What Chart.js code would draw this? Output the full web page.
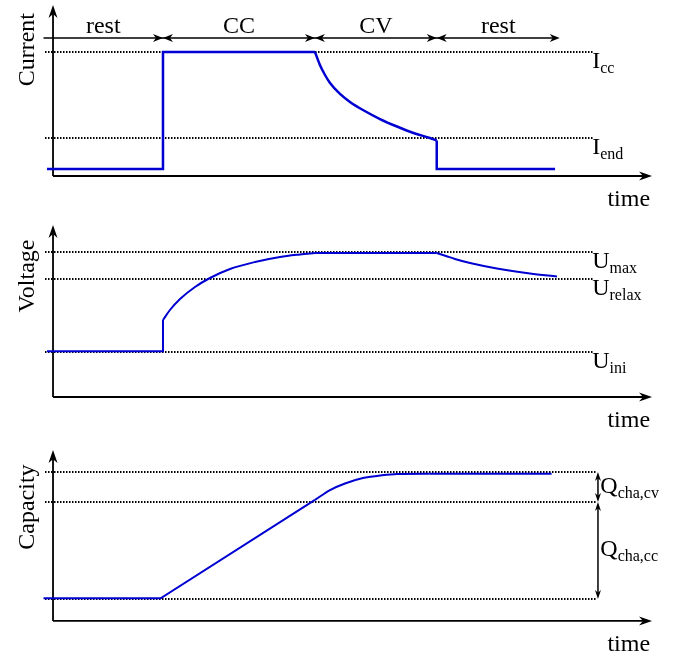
<!DOCTYPE html>
<html>
<head>
<meta charset="utf-8">
<script src="https://cdn.jsdelivr.net/npm/chart.js@4.4.1/dist/chart.umd.min.js"></script>
<style>
  html, body { margin: 0; padding: 0; background: #fff; }
  #wrap { position: relative; width: 675px; height: 656px; }
  .panel { position: absolute; left: 0; width: 675px; }
</style>
</head>
<body>
<div id="wrap">
  <div class="panel" style="top:0;height:218px"><canvas id="currentChart"></canvas></div>
  <div class="panel" style="top:218px;height:220px"><canvas id="voltageChart"></canvas></div>
  <div class="panel" style="top:438px;height:218px"><canvas id="capacityChart"></canvas></div>
</div>
<script>
// phases of the charge protocol
const phaseNames = ['rest', 'CC', 'CV', 'rest'];
const phaseEdges = [-0.03, 1.0, 2.31, 3.36, 4.42];

// current (relative to I_cc)
const currentCcTime = [0, 1.0, 1.0, 2.31];
const currentCcValue = [0, 0, 1.0, 1.0];
const currentCvTime = [2.31, 2.353, 2.397, 2.44, 2.526, 2.612, 2.724, 2.871, 3.017, 3.172, 3.302, 3.36];
const currentCvValue = [1.0, 0.889, 0.803, 0.735, 0.641, 0.573, 0.504, 0.427, 0.363, 0.303, 0.265, 0.244];
const currentRestTime = [3.36, 3.36, 4.38];
const currentRestValue = [0.244, 0, 0];
const currentRefs = [1.0, 0.265];
const currentRefLabels = [['I', 'cc'], ['I', 'end']];

// voltage (V)
const voltageStepTime = [0, 1.0, 1.0];
const voltageStepValue = [3.01, 3.01, 3.384];
const voltageCcTime = [1.0, 1.06, 1.147, 1.276, 1.405, 1.578, 1.793, 2.009, 2.181, 2.31];
const voltageCcValue = [3.384, 3.504, 3.636, 3.78, 3.888, 3.996, 4.08, 4.14, 4.17, 4.188];
const voltageCvTime = [2.31, 3.36];
const voltageCvValue = [4.188, 4.188];
const voltageRelaxTime = [3.36, 3.44, 3.517, 3.647, 3.879, 4.164, 4.397];
const voltageRelaxValue = [4.188, 4.152, 4.116, 4.068, 4.002, 3.942, 3.906];
const voltageRefs = [4.2, 3.876, 3.0];
const voltageRefLabels = [['U', 'max'], ['U', 'relax'], ['U', 'ini']];

// capacity (relative to total charge)
const capacityCcTime = [-0.03, 0.98, 2.31];
const capacityCcValue = [0.005, 0.005, 0.78];
const capacityCvTime = [2.31, 2.44, 2.569, 2.724, 2.87, 3.017, 3.30];
const capacityCvValue = [0.78, 0.858, 0.91, 0.953, 0.972, 0.984, 0.986];
const capacityRestTime = [3.30, 4.35];
const capacityRestValue = [0.986, 0.986];
const capacityRefs = [1.0, 0.764, 0];
const capacityRefLabels = [['Q', 'cha,cv'], ['Q', 'cha,cc']];

const lineBlue = 'rgb(0, 0, 210)';
const ink = '#000';
const serif = '"Liberation Serif", "DejaVu Serif", serif';
const xMin = -0.405, xMax = 5.414;
const axisX0 = 0.052, axisXEnd = 5.216;
const refStart = -0.017;

function series(times, values, smooth, width) {
    return {
        data: times.map((t, i) => ({ x: t, y: values[i] })),
        borderColor: lineBlue,
        borderWidth: width || 2,
        fill: false,
        pointRadius: 0,
        tension: smooth ? 0.4 : 0,
        cubicInterpolationMode: smooth ? 'monotone' : 'default'
    };
}

function arrowHead(ctx, x, y, angle, len, half) {
    ctx.save();
    ctx.translate(x, y);
    ctx.rotate(angle);
    ctx.beginPath();
    ctx.moveTo(0, 0);
    ctx.lineTo(-len, -half);
    ctx.lineTo(-len * 0.7, 0);
    ctx.lineTo(-len, half);
    ctx.closePath();
    ctx.fill();
    ctx.restore();
}

function subLabel(ctx, x, y, main, sub) {
    ctx.textAlign = 'left';
    ctx.textBaseline = 'alphabetic';
    ctx.font = '24px ' + serif;
    ctx.fillText(main, x, y);
    const w = ctx.measureText(main).width;
    ctx.font = '16px ' + serif;
    ctx.fillText(sub, x + w, y + 5);
}

function decor(cfg) {
    return {
        id: 'decor',
        beforeDatasetsDraw(chart) {
            const ctx = chart.ctx, xs = chart.scales.x, ys = chart.scales.y;
            const px = v => xs.getPixelForValue(v), py = v => ys.getPixelForValue(v);
            ctx.save();
            ctx.fillStyle = ink;
            ctx.strokeStyle = ink;
            // dotted reference lines
            ctx.lineWidth = 2;
            ctx.setLineDash([1.5, 1.5]);
            cfg.refs.forEach(v => {
                ctx.beginPath();
                ctx.moveTo(px(refStart), py(v));
                ctx.lineTo(px(cfg.refEnd), py(v));
                ctx.stroke();
            });
            ctx.setLineDash([]);
            // axes with arrows
            ctx.lineWidth = 1.8;
            const ox = px(axisX0), oy = py(cfg.axisY0);
            ctx.beginPath();
            ctx.moveTo(ox, oy);
            ctx.lineTo(ox, py(cfg.axisYTop) + 6);
            ctx.moveTo(ox, oy);
            ctx.lineTo(px(axisXEnd) - 6, oy);
            ctx.stroke();
            arrowHead(ctx, ox, py(cfg.axisYTop), -Math.PI / 2, 13, 4.5);
            arrowHead(ctx, px(axisXEnd), oy, 0, 13, 4.5);
            ctx.restore();
        },
        afterDatasetsDraw(chart) {
            const ctx = chart.ctx, xs = chart.scales.x, ys = chart.scales.y;
            const px = v => xs.getPixelForValue(v), py = v => ys.getPixelForValue(v);
            ctx.save();
            ctx.fillStyle = ink;
            ctx.strokeStyle = ink;
            ctx.font = '24px ' + serif;
            // axis titles
            ctx.save();
            ctx.translate(34, py(cfg.titleAt));
            ctx.rotate(-Math.PI / 2);
            ctx.textAlign = 'center';
            ctx.textBaseline = 'alphabetic';
            ctx.fillText(cfg.title, 0, 0);
            ctx.restore();
            ctx.textAlign = 'right';
            ctx.textBaseline = 'alphabetic';
            ctx.fillText('time', px(axisXEnd) - 2, py(cfg.axisY0) + 30);
            if (cfg.extra) cfg.extra(ctx, px, py);
            ctx.restore();
        }
    };
}

function makeChart(id, datasets, yMin, yMax, plugin) {
    return new Chart(document.getElementById(id).getContext('2d'), {
        type: 'line',
        data: { datasets: datasets },
        options: {
            responsive: true,
            maintainAspectRatio: false,
            animation: false,
            layout: { padding: 0 },
            plugins: { legend: { display: false }, tooltip: { enabled: false } },
            elements: { point: { radius: 0 } },
            scales: {
                x: { type: 'linear', display: false, min: xMin, max: xMax },
                y: { type: 'linear', display: false, min: yMin, max: yMax }
            }
        },
        plugins: [plugin]
    });
}

// Corrente
makeChart('currentChart', [
    series(currentCcTime, currentCcValue, false, 2.5),
    series(currentCvTime, currentCvValue, true, 2.5),
    series(currentRestTime, currentRestValue, false, 2.5)
], -0.419, 1.444, decor({
    refs: currentRefs, refEnd: 4.707, axisY0: -0.06, axisYTop: 1.402,
    title: 'Current', titleAt: 1.02,
    extra(ctx, px, py) {
        currentRefs.forEach((v, i) => {
            subLabel(ctx, px(4.70), py(v) + 16, currentRefLabels[i][0], currentRefLabels[i][1]);
        });
        // phase arrows
        const yl = py(1.12);
        ctx.lineWidth = 1.5;
        ctx.beginPath();
        ctx.moveTo(px(phaseEdges[0]), yl);
        ctx.lineTo(px(phaseEdges[phaseEdges.length - 1]) - 4, yl);
        ctx.stroke();
        for (let i = 1; i < phaseEdges.length - 1; i++) {
            arrowHead(ctx, px(phaseEdges[i]), yl, 0, 10, 4);
            arrowHead(ctx, px(phaseEdges[i]), yl, Math.PI, 10, 4);
        }
        arrowHead(ctx, px(phaseEdges[phaseEdges.length - 1]), yl, 0, 10, 4);
        ctx.font = '24px ' + serif;
        ctx.textAlign = 'center';
        phaseNames.forEach((n, i) => {
            ctx.fillText(n, px((phaseEdges[i] + phaseEdges[i + 1]) / 2), yl - 5);
        });
    }
}));

// Tensão
makeChart('voltageChart', [
    series(voltageStepTime, voltageStepValue, false),
    series(voltageCcTime, voltageCcValue, true),
    series(voltageCvTime, voltageCvValue, false),
    series(voltageRelaxTime, voltageRelaxValue, true)
], 1.968, 4.608, decor({
    refs: voltageRefs, refEnd: 4.707, axisY0: 2.46, axisYTop: 4.524,
    title: 'Voltage', titleAt: 3.912,
    extra(ctx, px, py) {
        voltageRefs.forEach((v, i) => {
            subLabel(ctx, px(4.70), py(v) + 16, voltageRefLabels[i][0], voltageRefLabels[i][1]);
        });
    }
}));

// Capacidade
makeChart('capacityChart', [
    series(capacityCcTime, capacityCcValue, false),
    series(capacityCvTime, capacityCvValue, true),
    series(capacityRestTime, capacityRestValue, false)
], -0.449, 1.268, decor({
    refs: capacityRefs, refEnd: 4.74, axisY0: -0.173, axisYTop: 1.173,
    title: 'Capacity', titleAt: 0.724,
    extra(ctx, px, py) {
        const xa = px(4.75);
        ctx.lineWidth = 1.5;
        for (let i = 0; i < capacityRefs.length - 1; i++) {
            const y1 = py(capacityRefs[i]), y2 = py(capacityRefs[i + 1]);
            ctx.beginPath();
            ctx.moveTo(xa, y1 + 3);
            ctx.lineTo(xa, y2 - 3);
            ctx.stroke();
            arrowHead(ctx, xa, y1, -Math.PI / 2, 9, 3);
            arrowHead(ctx, xa, y2, Math.PI / 2, 9, 3);
            subLabel(ctx, px(4.77), (y1 + y2) / 2 + 6, capacityRefLabels[i][0], capacityRefLabels[i][1]);
        }
    }
}));
</script>
</body>
</html>
